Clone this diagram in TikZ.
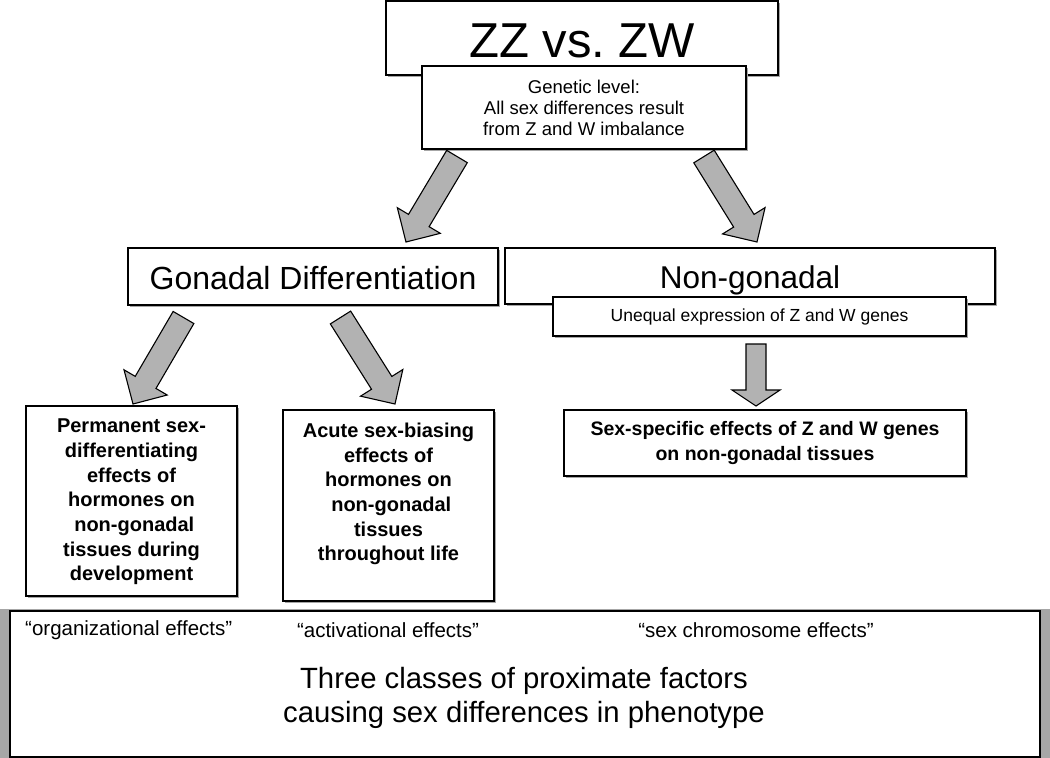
\documentclass[tikz,border=0pt]{standalone}
\usepackage{fontspec}
\setmainfont{Liberation Sans}
\frenchspacing
\usetikzlibrary{calc,shadows}
\newcommand{\blockarrow}[5]{% start, tip, shaft half width, head half width, head length
  \path ($(#2)!#5!(#1)$) coordinate (hb);
  \draw[blockarr] ($(#1)!#3!90:(#2)$) -- ($(hb)!#3!90:(#2)$) -- ($(hb)!#4!90:(#2)$) -- (#2)
     -- ($(hb)!#4!-90:(#2)$) -- ($(hb)!#3!-90:(#2)$) -- ($(#1)!#3!-90:(#2)$) -- cycle;}
\begin{document}
\begin{tikzpicture}[x=1pt,y=-1pt,
  box/.style={draw=black, line width=1.3pt, fill=white, rectangle, inner sep=0pt,
    drop shadow={shadow xshift=1.5pt, shadow yshift=-2pt, fill=black!35, opacity=1}},
  blockarr/.style={draw=black, line width=1.1pt, fill=black!30, line join=miter},
  plaintxt/.style={inner sep=0pt, align=center},
  boldtxt/.style={inner sep=0pt, align=center, font=\fontsize{20pt}{24.7pt}\selectfont\bfseries},
  quotetxt/.style={inner sep=0pt, font=\fontsize{20.5pt}{24pt}\selectfont}]
\useasboundingbox (0,0) rectangle (1050,758);
\fill[white] (0,0) rectangle (1050,758);

% top
\node[box, minimum width=392pt, minimum height=74pt] (zz) at (582,38) {};
\node[inner sep=0pt, anchor=base, font=\fontsize{49pt}{56pt}\selectfont] (zzt) at (582,57) {ZZ vs. ZW};
\node[box, minimum width=324pt, minimum height=83pt, align=center,
  font=\fontsize{18.5pt}{21pt}\selectfont] (gen) at (584,107.5)
  {Genetic level:\\All sex differences result\\from Z and W imbalance};

% second row
\node[box, minimum width=370pt, minimum height=57pt] (gon) at (313,276.5) {};
\node[inner sep=0pt, anchor=base, font=\fontsize{32pt}{38pt}\selectfont] (gont) at (313,289.5) {Gonadal Differentiation};
\node[box, minimum width=490pt, minimum height=56pt] (nong) at (750,276) {};
\node[inner sep=0pt, anchor=base, font=\fontsize{31.5pt}{38pt}\selectfont] (nongt) at (750,288.5) {Non-gonadal};
\node[box, minimum width=413pt, minimum height=39pt,
  font=\fontsize{17.5pt}{21pt}\selectfont] (uneq) at (759.5,316.5) {Unequal expression of Z and W genes};

% third row
\node[box, minimum width=211pt, minimum height=190pt] (perm) at (131.5,501) {};
\node[boldtxt] (permt) at (131.5,502)
  {Permanent sex-\\differentiating\\effects of\\hormones on\\\ non-gonadal\\tissues during\\development};
\node[box, minimum width=211pt, minimum height=191pt] (acute) at (388.5,505.5) {};
\node[boldtxt] (acutet) at (388.5,494)
  {Acute sex-biasing\\effects of\\hormones on\\\ non-gonadal\\tissues\\throughout life};
\node[box, minimum width=402pt, minimum height=66pt, align=center,
  font=\fontsize{19.5pt}{25pt}\selectfont\bfseries] (sexs) at (765,443)
  {Sex-specific effects of Z and W genes\\on non-gonadal tissues};

% bottom
\fill[black!35] (0,609) rectangle (1050,758);
\node[draw=black, line width=1.3pt, fill=white, inner sep=0pt,
  minimum width=1030pt, minimum height=146pt] (bottom) at (525,684) {};
\node[quotetxt, anchor=west] (org) at (25,630) {“organizational effects”};
\node[quotetxt] (act) at (388,630) {“activational effects”};
\node[quotetxt] (sch) at (756,630) {“sex chromosome effects”};
\node[plaintxt, font=\fontsize{29.3pt}{34.5pt}\selectfont] (three) at (524,698)
  {Three classes of proximate factors\\causing sex differences in phenotype};

% arrows
\coordinate (a1s) at (457,156.5); \coordinate (a1e) at (406,242);
\coordinate (a2s) at (704,156.5); \coordinate (a2e) at (757,242);
\coordinate (a3s) at (183.5,317.5); \coordinate (a3e) at (133,404);
\coordinate (a4s) at (340.5,317.5); \coordinate (a4e) at (395,404);
\coordinate (a5s) at (756,344); \coordinate (a5e) at (756,406);
\blockarrow{a1s}{a1e}{12pt}{25pt}{25pt}
\blockarrow{a2s}{a2e}{12pt}{25pt}{25pt}
\blockarrow{a3s}{a3e}{12pt}{25pt}{25pt}
\blockarrow{a4s}{a4e}{12pt}{25pt}{25pt}
\blockarrow{a5s}{a5e}{10pt}{24pt}{16pt}
\end{tikzpicture}
\end{document}
